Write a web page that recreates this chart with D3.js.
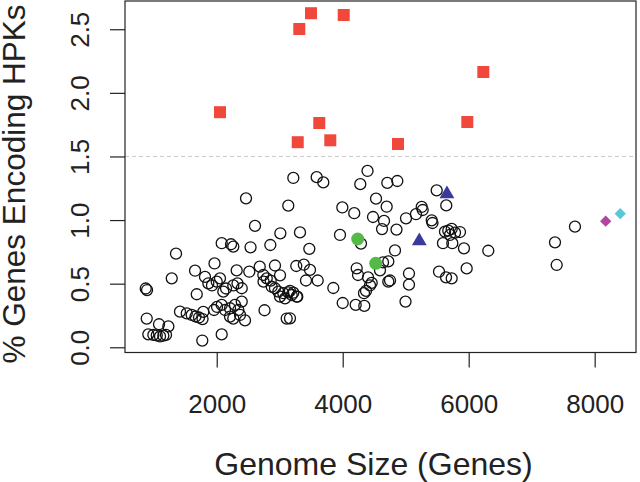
<!DOCTYPE html>
<html><head><meta charset="utf-8">
<script src="https://cdn.jsdelivr.net/npm/d3@7"></script>
<style>html,body{margin:0;padding:0;background:#fff;}svg{display:block;}</style>
</head><body>
<script>
// ---- data (genome size in genes, % genes encoding HPKs) ----
const openGenes = [873,894,889,914,994,1048,1100,1152,1195,1084,1232,1286,1354,1417,1524,1603,1663,1719,1775,1787,
 1656,1683,1771,1814,1867,1925,1965,2000,2052,2079,2227,2263,1957,2005,2079,2079,2132,2105,2148,2211,
 2211,2263,2290,2343,2370,2397,2449,2263,2330,2397,2317,2465,2537,2517,2608,2683,2740,2794,2743,2857,
 2851,2925,3005,2873,2925,2978,3057,3136,3190,3270,3005,3084,2759,3111,3010,3136,3216,3322,3263,3383,
 3481,3470,3417,3603,3163,3216,3279,3163,3587,3692,3851,3957,3994,4183,4279,4394,4290,4222,4243,4402,
 4460,4433,4370,4338,4000,4206,4343,4529,4698,4481,4656,4624,4708,4867,4854,4830,4592,4640,4724,4724,
 4751,4997,5052,5052,5005,5163,5254,5270,5413,5425,5492,5644,5624,5676,5730,5783,5703,5862,5592,5740,
 5925,6311,5529,5640,5730,5968,7370,7397,7687];
const openPct = [0.462,0.450,0.226,0.102,0.097,0.093,0.085,0.091,0.097,0.181,0.164,0.542,0.736,0.280,0.266,0.254,0.242,0.234,0.222,0.278,
 0.602,0.417,0.053,0.553,0.503,0.486,0.659,0.516,0.542,0.818,0.810,0.791,0.293,0.317,0.101,0.333,0.293,0.437,0.462,0.307,
 0.241,0.226,0.333,0.293,0.254,0.359,0.211,0.486,0.502,0.464,0.604,1.171,0.786,0.594,0.954,0.634,0.568,0.542,0.516,0.524,
 0.804,0.643,0.566,0.476,0.464,0.437,0.425,0.432,0.411,0.398,0.398,0.385,0.291,0.226,0.896,1.113,1.331,0.903,0.639,0.649,
 0.608,0.774,0.525,0.525,0.443,0.429,0.398,0.228,1.337,1.296,0.466,0.883,1.099,1.054,1.282,1.386,0.815,0.621,0.568,0.550,
 0.506,0.486,0.443,0.425,0.348,0.333,0.325,1.168,1.105,1.024,0.993,0.929,1.292,1.307,0.925,0.761,0.605,0.667,0.675,0.516,
 0.525,0.359,0.580,0.492,1.014,1.046,1.103,1.079,0.998,0.977,1.233,1.115,0.909,0.917,0.930,0.901,0.883,0.906,0.818,0.818,
 0.778,0.759,0.594,0.550,0.542,0.620,0.825,0.647,0.948];
const highGenes = [3497,4016,3311,6232,2052,3628,5978,3803,3286,4878];
const highPct   = [2.626,2.612,2.502,2.164,1.848,1.763,1.771,1.627,1.612,1.598];
const greenGenes = [4238,4524];
const greenPct   = [0.851,0.660];
const blueGenes = [5655,5216];
const bluePct   = [1.205,0.836];
const magentaGenes = [8175];
const magentaPct   = [0.991];
const cyanGenes = [8406];
const cyanPct   = [1.050];
const xTicks = [2000,4000,6000,8000];
const yTicks = [0.0,0.5,1.0,1.5,2.0,2.5];
const yTickLabels = ["0.0","0.5","1.0","1.5","2.0","2.5"];
const threshold = 1.5;
const xTitle = "Genome Size (Genes)";
const yTitle = "% Genes Encoding HPKs";

(function(){
const W = 640, H = 482;
const pL = 125, pR = 636, pT = 1, pB = 352.5;
const font = "'Liberation Sans', Arial, Helvetica, sans-serif";

const svg = d3.select("body").append("svg").attr("width", W).attr("height", H)
  .style("font-family", font);

const x = d3.scaleLinear().domain([544, 8656]).range([pL, pR]);
const y = d3.scaleLinear().domain([-0.041, 2.722]).range([pB, pT]);

// threshold dashed line
svg.append("line").attr("x1", pL).attr("x2", pR)
  .attr("y1", y(threshold)).attr("y2", y(threshold))
  .attr("stroke", "#c8c8c8").attr("stroke-width", 1).attr("stroke-dasharray", "4,3");

// open circles
svg.append("g").selectAll("circle").data(openGenes.map((g,i)=>[g, openPct[i]])).join("circle")
  .attr("cx", d=>x(d[0])).attr("cy", d=>y(d[1])).attr("r", 5.5)
  .attr("fill", "none").attr("stroke", "#111").attr("stroke-width", 1.3);

// red squares
svg.append("g").selectAll("path").data(highGenes.map((g,i)=>[g, highPct[i]])).join("path")
  .attr("d", d3.symbol(d3.symbolSquare, 144)())
  .attr("transform", d=>`translate(${x(d[0])},${y(d[1])})`)
  .attr("fill", "#f0483a");

// green filled circles
svg.append("g").selectAll("circle").data(greenGenes.map((g,i)=>[g, greenPct[i]])).join("circle")
  .attr("cx", d=>x(d[0])).attr("cy", d=>y(d[1])).attr("r", 6.5)
  .attr("fill", "#55b947");

// blue triangles
svg.append("g").selectAll("path").data(blueGenes.map((g,i)=>[g, bluePct[i]])).join("path")
  .attr("d", d3.symbol(d3.symbolTriangle, 95)())
  .attr("transform", d=>`translate(${x(d[0])},${y(d[1])})`)
  .attr("fill", "#383a9c");

// diamonds
function diamonds(gs, ps, color){
  svg.append("g").selectAll("path").data(gs.map((g,i)=>[g, ps[i]])).join("path")
    .attr("d", d3.symbol(d3.symbolSquare, 64)())
    .attr("transform", d=>`translate(${x(d[0])},${y(d[1])}) rotate(45)`)
    .attr("fill", color);
}
diamonds(magentaGenes, magentaPct, "#b2459f");
diamonds(cyanGenes, cyanPct, "#5cc6d6");

// box
svg.append("rect").attr("x", pL).attr("y", pT).attr("width", pR-pL).attr("height", pB-pT)
  .attr("fill", "none").attr("stroke", "#222").attr("stroke-width", 1.2);

// x axis
const xa = svg.append("g").attr("transform", `translate(0,${pB})`)
  .call(d3.axisBottom(x).tickValues(xTicks).tickSize(15).tickSizeOuter(0).tickFormat(d3.format("d")));
xa.select(".domain").remove();
xa.selectAll("line").attr("stroke", "#222").attr("stroke-width", 1.2);
xa.selectAll("text").attr("font-size", 26).attr("fill", "#222").attr("font-family", font)
  .attr("y", 0).attr("dy", null).attr("transform", "translate(0,60)");

// y axis
const ya = svg.append("g").attr("transform", `translate(${pL},0)`)
  .call(d3.axisLeft(y).tickValues(yTicks).tickSize(15).tickSizeOuter(0).tickFormat((d,i)=>yTickLabels[i]));
ya.select(".domain").remove();
ya.selectAll("line").attr("stroke", "#222").attr("stroke-width", 1.2);
ya.selectAll("text").attr("font-size", 26).attr("fill", "#222").attr("font-family", font)
  .attr("x", 0).attr("dy", null).attr("text-anchor", "middle")
  .attr("transform", "translate(-36,0) rotate(-90)");

// titles
svg.append("text").attr("x", 373.5).attr("y", 475).attr("text-anchor", "middle")
  .attr("font-size", 32).attr("fill", "#222").text(xTitle);
svg.append("text").attr("transform", `translate(25,184) rotate(-90)`)
  .attr("text-anchor", "middle").attr("font-size", 31.5).attr("fill", "#222").text(yTitle);
})();
</script>
</body></html>
